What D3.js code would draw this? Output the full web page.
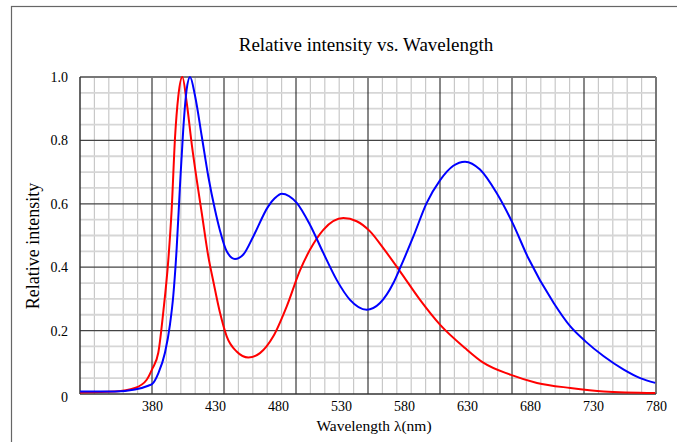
<!DOCTYPE html>
<html>
<head>
<meta charset="utf-8">
<script src="https://cdn.jsdelivr.net/npm/d3@7"></script>
<style>
  body { margin: 0; background: #fff; }
  svg { display: block; font-family: "Liberation Serif", "Times New Roman", serif; }
</style>
</head>
<body>
<svg id="chart" width="677" height="442"></svg>
<script>
// wavelength (nm) / relative intensity
const violetNm = [322.8, 350.5, 366.4, 375.7, 380.2, 384.9, 388.9, 392.8, 395.5, 398.2, 400.8, 404.0,
    407.5, 411.4, 415.4, 419.4, 424.6, 428.6, 433.9, 439.2, 447.1, 456.4, 465.6, 476.2, 486.8, 497.4,
    505.3, 515.9, 531.8, 542.4, 553.0, 563.5, 576.8, 592.7, 608.5, 628.4, 643.2, 664.3, 685.5, 712.0,
    738.5, 779.4];
const violetVal = [0.005, 0.008, 0.019, 0.045, 0.08, 0.13, 0.26, 0.42, 0.58, 0.81, 0.94, 1.0,
    0.918, 0.79, 0.676, 0.571, 0.434, 0.355, 0.256, 0.182, 0.134, 0.115, 0.129, 0.182, 0.276, 0.39,
    0.455, 0.518, 0.555, 0.545, 0.513, 0.46, 0.387, 0.297, 0.219, 0.145, 0.098, 0.061, 0.035, 0.019,
    0.008, 0.003];

const blueNm = [322.8, 350.5, 366.4, 376.9, 380.2, 384.9, 390.2, 394.2, 396.8, 399.5, 402.1, 404.7,
    407.4, 410.1, 414.1, 419.4, 424.6, 429.9, 433.9, 439.2, 445.8, 452.4, 460.3, 472.2, 477.5, 482.9,
    494.8, 505.3, 515.9, 526.5, 537.1, 550.3, 560.9, 571.5, 576.8, 587.4, 598.0, 608.5, 619.1, 628.4,
    640.3, 653.5, 666.2, 678.6, 698.8, 712.0, 724.0, 738.5, 754.4, 767.5, 779.4];
const blueVal = [0.008, 0.008, 0.014, 0.026, 0.032, 0.065, 0.13, 0.22, 0.31, 0.46, 0.655, 0.834,
    0.96, 1.0, 0.94, 0.813, 0.686, 0.581, 0.515, 0.45, 0.426, 0.44, 0.497, 0.592, 0.618, 0.632,
    0.603, 0.534, 0.445, 0.36, 0.297, 0.266, 0.287, 0.35, 0.397, 0.497, 0.603, 0.674, 0.72, 0.733,
    0.708, 0.634, 0.539, 0.429, 0.287, 0.213, 0.166, 0.119, 0.077, 0.05, 0.035];

const xTicks = [380, 430, 480, 530, 580, 630, 680, 730, 780];
const yTicks = [0, 0.2, 0.4, 0.6, 0.8, 1.0];

const W = 677, H = 442;
const margin = { top: 77, left: 80, right: 21, bottom: 48 };
const figW = W - margin.left - margin.right;
const figH = H - margin.top - margin.bottom;

const svg = d3.select("#chart");

// outer frame (runs past the right and bottom edges)
svg.append("rect")
    .attr("x", 11.5).attr("y", 6.5)
    .attr("width", 700).attr("height", 460)
    .attr("fill", "none")
    .attr("stroke", "#666")
    .attr("stroke-width", 1.2);

const x = d3.scaleLinear().domain([322.75, 780]).range([0, figW]);
const y = d3.scaleLinear().domain([0, 1]).range([figH, 0]);
// grid is laid out in 40 equal columns, independent of the wavelength labels
const gx = d3.scaleLinear().domain([0, 40]).range([0, figW]);

const fig = svg.append("g")
    .attr("transform", `translate(${margin.left},${margin.top})`);

// minor grid
fig.append("g")
    .selectAll("line")
    .data(d3.range(1, 40).filter(i => i % 5 !== 0))
    .join("line")
    .attr("x1", d => gx(d)).attr("x2", d => gx(d))
    .attr("y1", 0).attr("y2", figH)
    .attr("stroke", "#c8c8c8")
    .attr("stroke-width", 1.2);

fig.append("g")
    .selectAll("line")
    .data(d3.range(1, 20).filter(i => i % 4 !== 0).map(i => i * 0.05))
    .join("line")
    .attr("x1", 0).attr("x2", figW)
    .attr("y1", d => y(d)).attr("y2", d => y(d))
    .attr("stroke", "#d6d6d6")
    .attr("stroke-width", 1.8);

// major grid
fig.append("g")
    .selectAll("line")
    .data(d3.range(5, 40, 5))
    .join("line")
    .attr("x1", d => gx(d)).attr("x2", d => gx(d))
    .attr("y1", 0).attr("y2", figH)
    .attr("stroke", "#111")
    .attr("stroke-width", 1);

fig.append("g")
    .selectAll("line")
    .data([0.2, 0.4, 0.6, 0.8])
    .join("line")
    .attr("x1", 0).attr("x2", figW)
    .attr("y1", d => y(d)).attr("y2", d => y(d))
    .attr("stroke", "#444")
    .attr("stroke-width", 1.3);

// plot border
fig.append("line").attr("x1", 0).attr("x2", figW).attr("y1", 0).attr("y2", 0)
    .attr("stroke", "#777").attr("stroke-width", 2);
fig.append("line").attr("x1", figW).attr("x2", figW).attr("y1", 0).attr("y2", figH)
    .attr("stroke", "#777").attr("stroke-width", 2);
fig.append("line").attr("x1", 0).attr("x2", 0).attr("y1", 0).attr("y2", figH)
    .attr("stroke", "#333").attr("stroke-width", 1.5);
fig.append("line").attr("x1", 0).attr("x2", figW).attr("y1", figH).attr("y2", figH)
    .attr("stroke", "#333").attr("stroke-width", 1.5);

// curves
const line = d3.line()
    .x(d => x(d[0]))
    .y(d => y(d[1]))
    .curve(d3.curveMonotoneX);

fig.append("path")
    .datum(d3.zip(violetNm, violetVal))
    .attr("fill", "none")
    .attr("stroke", "#ff0000")
    .attr("stroke-width", 2)
    .attr("d", line);

fig.append("path")
    .datum(d3.zip(blueNm, blueVal))
    .attr("fill", "none")
    .attr("stroke", "#0000ff")
    .attr("stroke-width", 2)
    .attr("d", line);

// axes
const xAxis = fig.append("g")
    .attr("transform", `translate(0,${figH})`)
    .call(d3.axisBottom(x).tickValues(xTicks).tickSize(0).tickPadding(7));
xAxis.select(".domain").remove();
xAxis.selectAll("text")
    .attr("font-family", "Liberation Serif, serif")
    .attr("font-size", 14)
    .attr("fill", "#000");

const yAxis = fig.append("g")
    .call(d3.axisLeft(y).tickValues(yTicks).tickSize(0).tickPadding(12)
        .tickFormat(d => d === 0 ? "0" : d3.format(".1f")(d)));
yAxis.select(".domain").remove();
yAxis.selectAll("text")
    .attr("font-family", "Liberation Serif, serif")
    .attr("font-size", 14)
    .attr("fill", "#000");
yAxis.selectAll(".tick").filter(d => d === 0).select("text").attr("dy", "0.55em");

// titles
svg.append("text")
    .attr("x", 366).attr("y", 51)
    .attr("text-anchor", "middle")
    .attr("font-size", 19)
    .text("Relative intensity vs. Wavelength");

svg.append("text")
    .attr("x", 374).attr("y", 431)
    .attr("text-anchor", "middle")
    .attr("font-size", 15.5)
    .text("Wavelength λ(nm)");

svg.append("text")
    .attr("transform", "translate(39,246) rotate(-90)")
    .attr("text-anchor", "middle")
    .attr("font-size", 18)
    .text("Relative intensity");
</script>
</body>
</html>
